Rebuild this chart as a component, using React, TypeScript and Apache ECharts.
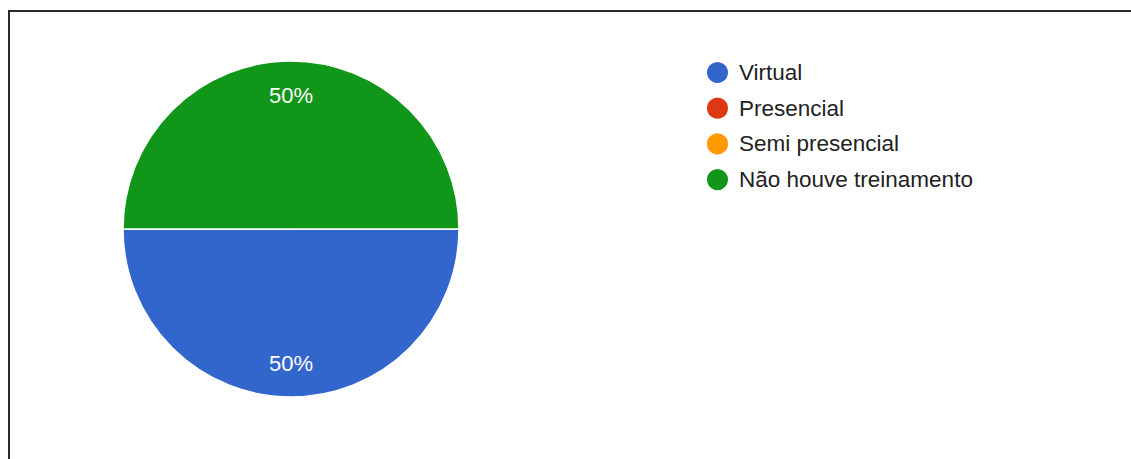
import React, { useEffect, useRef } from "react";
import * as echarts from "echarts";

const categories = ["Virtual", "Presencial", "Semi presencial", "Não houve treinamento"];
const counts = [1, 0, 0, 1];
const colors = ["#3366cc", "#dc3912", "#ff9900", "#109618"];

export default function App() {
  const ref = useRef<HTMLDivElement>(null);
  useEffect(() => {
    if (!ref.current) return;
    const chart = echarts.init(ref.current, undefined, { renderer: "svg" });
    const data = categories.map((name, i) => ({
      name,
      value: counts[i],
      itemStyle: { color: colors[i] },
    }));
    const total = counts.reduce((a, b) => a + b, 0);
    const font = "Arial, 'Liberation Sans', sans-serif";
    chart.setOption({
      animation: false,
      textStyle: { fontFamily: font },
      legend: {
        orient: "vertical",
        left: 700,
        top: 55,
        icon: "circle",
        itemWidth: 23,
        itemHeight: 23,
        itemGap: 10.7,
        selectedMode: false,
        data: categories,
        textStyle: {
          fontSize: 22.5,
          color: "#222222",
          fontFamily: font,
          padding: [0, 0, 0, 5],
        },
      },
      series: [
        {
          type: "pie",
          center: [291, 229],
          radius: 168,
          startAngle: 0,
          clockwise: true,
          silent: true,
          data,
          label: { show: false },
          labelLine: { show: false },
          itemStyle: { borderColor: "#ffffff", borderWidth: 1.5 },
        },
        {
          type: "pie",
          center: [291, 229],
          radius: [94, 168],
          startAngle: 0,
          clockwise: true,
          silent: true,
          data: categories.map((name, i) => ({
            name,
            value: counts[i],
            itemStyle: { color: "rgba(0,0,0,0)" },
          })),
          label: {
            show: true,
            position: "inside",
            color: "#ffffff",
            fontSize: 22,
            fontFamily: font,
            formatter: (p: any) =>
              p.value > 0 ? Math.round((p.value / total) * 100) + "%" : "",
          },
          labelLine: { show: false },
        },
      ],
    });
    return () => chart.dispose();
  }, []);
  return (
    <div style={{ position: "fixed", left: 0, top: 0, width: 1131, height: 459, overflow: "hidden", background: "#fff" }}>
      <div
        style={{
          position: "absolute",
          left: 8,
          top: 10,
          width: 1200,
          height: 500,
          borderLeft: "2px solid #2a2a2a",
          borderTop: "2px solid #2a2a2a",
        }}
      />
      <div ref={ref} style={{ position: "absolute", left: 0, top: 0, width: 1131, height: 459 }} />
    </div>
  );
}
